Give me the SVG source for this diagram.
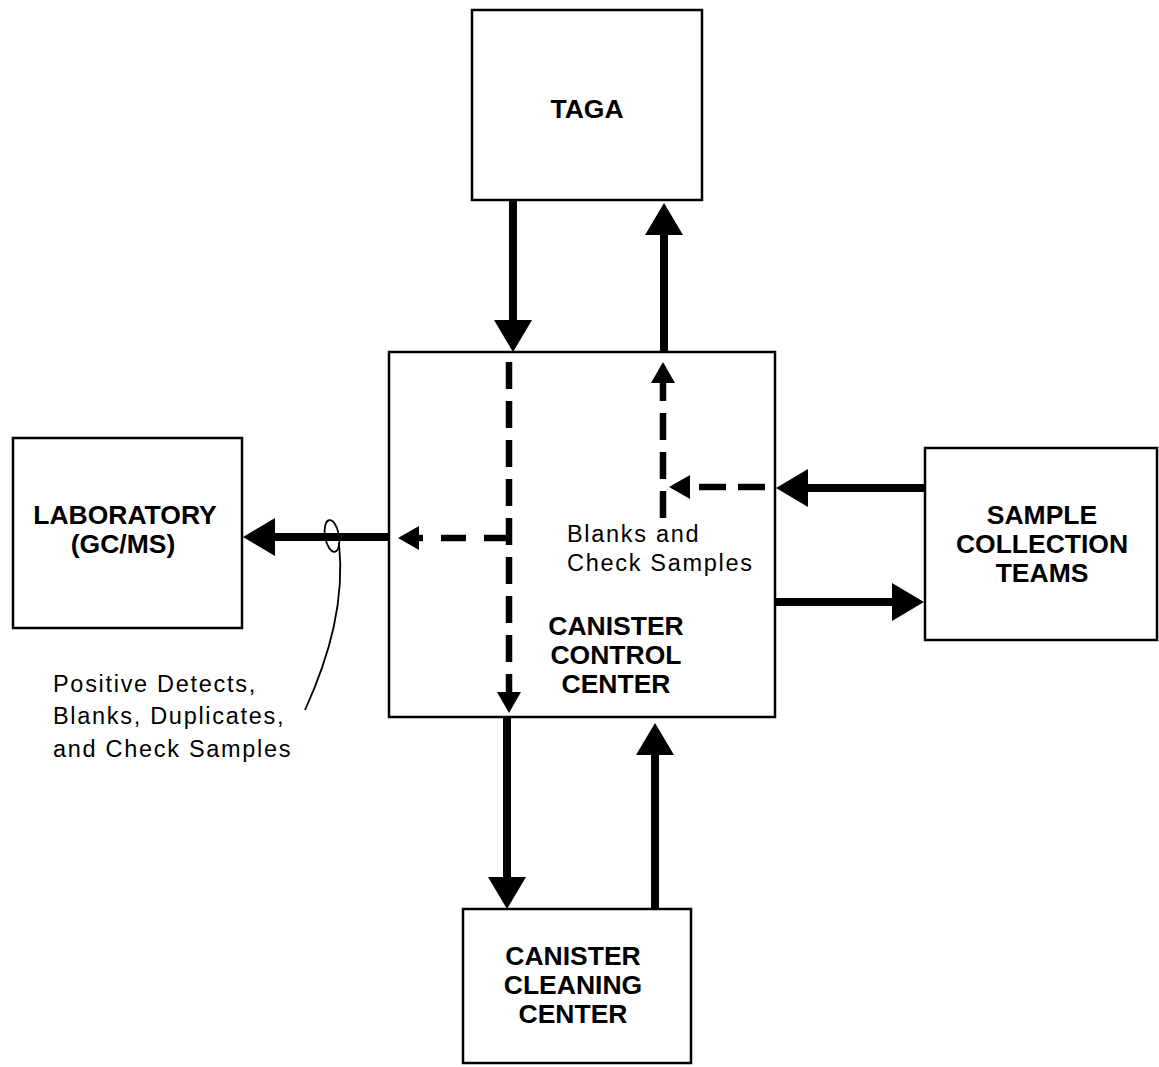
<svg xmlns="http://www.w3.org/2000/svg" width="1159" height="1067" viewBox="0 0 1159 1067">
<style>
.box{fill:#fff;stroke:#000;stroke-width:2.5}
.bold{font-family:"Liberation Sans",Arial,sans-serif;font-weight:bold;font-size:26.5px;text-anchor:middle;fill:#000}
.lbl{font-family:"Liberation Sans",Arial,sans-serif;font-size:23.5px;letter-spacing:1.7px;fill:#000}
.thick{stroke:#000;stroke-width:8;fill:none}
.dash{stroke:#000;stroke-width:6.5;fill:none;stroke-dasharray:27 12}
</style>
<defs>
<marker id="ah" markerUnits="userSpaceOnUse" viewBox="0 0 32 38" refX="0" refY="19" markerWidth="32" markerHeight="38" orient="auto">
<path d="M0,0 L32,19 L0,38 z" fill="#000"/>
</marker>
<marker id="ahs" markerUnits="userSpaceOnUse" viewBox="0 0 21 24" refX="0" refY="12" markerWidth="21" markerHeight="24" orient="auto">
<path d="M0,0 L21,12 L0,24 z" fill="#000"/>
</marker>
</defs>
<g id="taga"><rect class="box" x="472" y="10" width="230" height="190"/><text class="bold" x="587" y="118">TAGA</text></g>
<g id="control"><rect class="box" x="389" y="352" width="386" height="365"/>
<text class="bold" x="616" y="635">CANISTER</text><text class="bold" x="616" y="664">CONTROL</text><text class="bold" x="616" y="693">CENTER</text>
<text class="lbl" x="567" y="542">Blanks and</text><text class="lbl" x="567" y="571">Check Samples</text></g>
<g id="laboratory"><rect class="box" x="13" y="438" width="229" height="190"/><text class="bold" x="125" y="524">LABORATORY</text><text class="bold" x="123" y="553">(GC/MS)</text></g>
<g id="sample"><rect class="box" x="925" y="448" width="232" height="192"/><text class="bold" x="1042" y="524">SAMPLE</text><text class="bold" x="1042" y="553">COLLECTION</text><text class="bold" x="1042" y="582">TEAMS</text></g>
<g id="cleaning"><rect class="box" x="463" y="909" width="228" height="154"/><text class="bold" x="573" y="965">CANISTER</text><text class="bold" x="573" y="994">CLEANING</text><text class="bold" x="573" y="1023">CENTER</text></g>
<g id="note"><text class="lbl" x="53" y="692">Positive Detects,</text><text class="lbl" x="53" y="724">Blanks, Duplicates,</text><text class="lbl" x="53" y="757">and Check Samples</text></g>
<g id="connectors">
<line class="thick" x1="513" y1="200" x2="513" y2="320" marker-end="url(#ah)"/>
<line class="thick" x1="664" y1="352" x2="664" y2="235" marker-end="url(#ah)"/>
<line class="thick" x1="389" y1="537" x2="275" y2="537" marker-end="url(#ah)"/>
<line class="thick" x1="925" y1="488" x2="808" y2="488" marker-end="url(#ah)"/>
<line class="thick" x1="775" y1="602" x2="892" y2="602" marker-end="url(#ah)"/>
<line class="thick" x1="507" y1="717" x2="507" y2="877" marker-end="url(#ah)"/>
<line class="thick" x1="655" y1="909" x2="655" y2="755" marker-end="url(#ah)"/>
<line class="dash" x1="509" y1="362" x2="509" y2="692" marker-end="url(#ahs)"/>
<line class="dash" x1="509" y1="538" x2="419" y2="538" style="stroke-dasharray:25 18" marker-end="url(#ahs)"/>
<line class="dash" x1="663" y1="518" x2="663" y2="383" marker-end="url(#ahs)"/>
<line class="dash" x1="765" y1="487" x2="690" y2="487" marker-end="url(#ahs)"/>
<ellipse cx="332" cy="536" rx="7" ry="16" transform="rotate(-10 332 536)" fill="none" stroke="#000" stroke-width="1.8"/>
<path d="M339,543 C345,600 330,655 305,710" fill="none" stroke="#000" stroke-width="1.8"/>
</g>
</svg>
